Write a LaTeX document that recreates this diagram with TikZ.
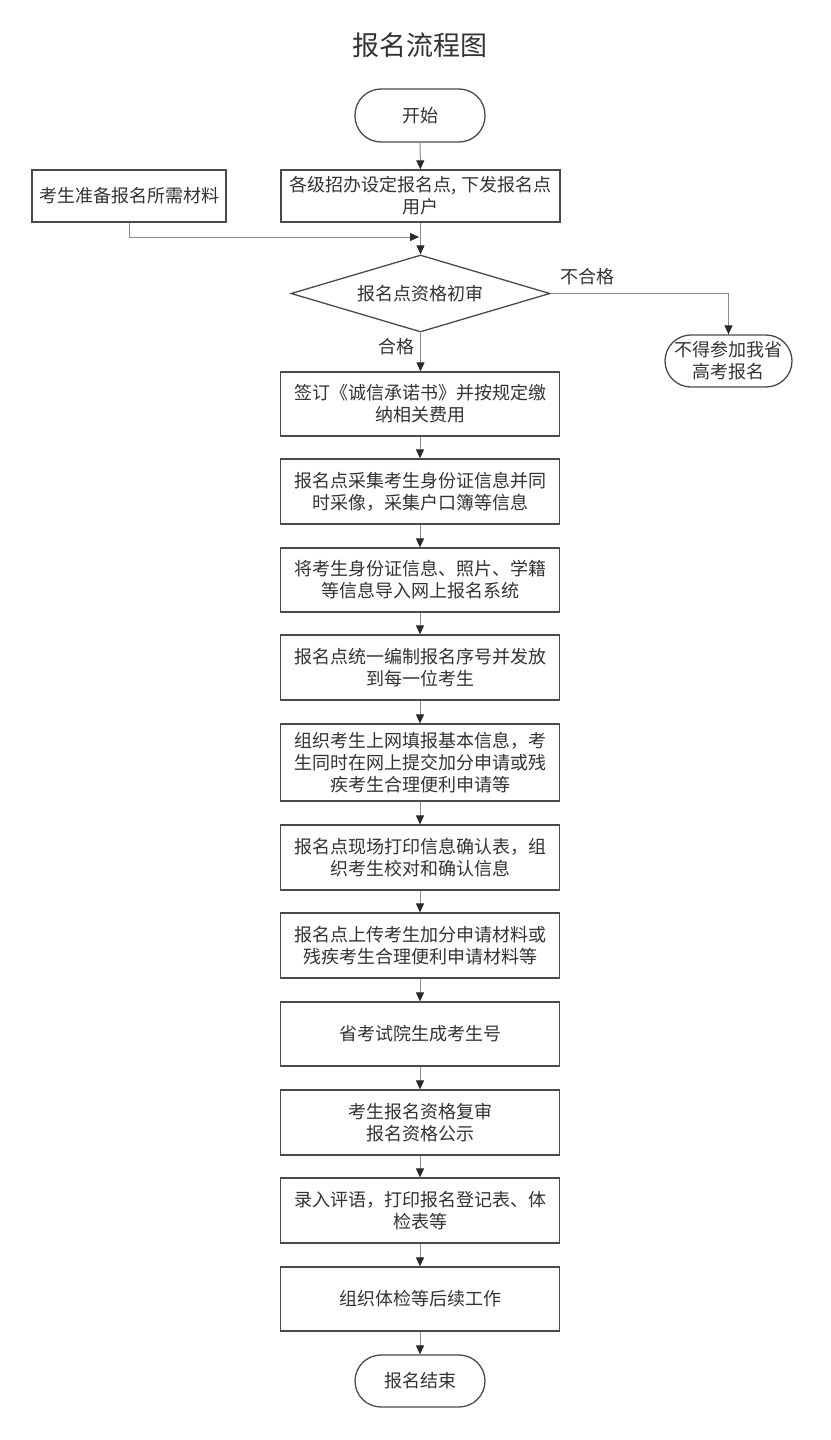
\documentclass[tikz,border=0pt]{standalone}
\usepackage{fontspec}
\setmainfont{Noto Sans CJK SC}
\usetikzlibrary{shapes.geometric,arrows.meta}
\definecolor{txtc}{HTML}{333333}
\definecolor{boxc}{HTML}{4A4A4A}
\definecolor{linec}{HTML}{8C8C8C}
\definecolor{tipc}{HTML}{2A2A2A}
\tikzset{
  stepbox/.style={draw=boxc, line width=1.3pt, rectangle, minimum width=279pt, align=center, inner sep=2pt, text=txtc, font=\fontsize{18}{22}\selectfont},
  termbox/.style={draw=boxc, line width=1.3pt, rectangle, rounded corners=26pt, align=center, inner sep=2pt, text=txtc, font=\fontsize{18}{22}\selectfont},
  decbox/.style={draw=boxc, line width=1.3pt, diamond, aspect=3.36, inner sep=0pt, minimum width=259pt, minimum height=77pt, text=txtc, font=\fontsize{18}{22}\selectfont},
  conn/.style={draw=linec, line width=1pt, -{Triangle[length=9pt,width=8pt,color=tipc]}},
  lbl/.style={text=txtc, font=\fontsize{18}{22}\selectfont, inner sep=1pt}
}
\begin{document}
\begin{tikzpicture}[x=1pt,y=-1pt]
\useasboundingbox[fill=white] (0,0) rectangle (830,1440);
\node[text=txtc, font=\fontsize{27}{31}\selectfont] (title) at (420,45) {报名流程图};
\node[termbox, minimum width=130pt, minimum height=53pt] (start) at (420,115.5) {开始};
\node[stepbox, minimum height=52pt] (b0) at (420.5,196) {各级招办设定报名点, 下发报名点\\用户};
\node[stepbox, minimum width=194pt, minimum height=52pt] (prep) at (129,196) {考生准备报名所需材料};
\node[decbox] (dec) at (420.5,293.5) {报名点资格初审};
\node[termbox, minimum width=127pt, minimum height=52pt] (rej) at (728.5,361) {不得参加我省\\高考报名};
\node[stepbox, minimum height=64pt] (b1) at (420,404) {签订《诚信承诺书》并按规定缴\\纳相关费用};
\node[stepbox, minimum height=65pt] (b2) at (420,491.5) {报名点采集考生身份证信息并同\\时采像，采集户口簿等信息};
\node[stepbox, minimum height=64pt] (b3) at (420,580) {将考生身份证信息、照片、学籍\\等信息导入网上报名系统};
\node[stepbox, minimum height=65pt] (b4) at (420,667.5) {报名点统一编制报名序号并发放\\到每一位考生};
\node[stepbox, minimum height=77pt] (b5) at (420,762.5) {组织考生上网填报基本信息，考\\生同时在网上提交加分申请或残\\疾考生合理便利申请等};
\node[stepbox, minimum height=65pt] (b6) at (420,857.5) {报名点现场打印信息确认表，组\\织考生校对和确认信息};
\node[stepbox, minimum height=65pt] (b7) at (420,945.5) {报名点上传考生加分申请材料或\\残疾考生合理便利申请材料等};
\node[stepbox, minimum height=64pt] (b8) at (420,1034) {省考试院生成考生号};
\node[stepbox, minimum height=65pt] (b9) at (420,1122.5) {考生报名资格复审\\报名资格公示};
\node[stepbox, minimum height=65pt] (b10) at (420,1210.5) {录入评语，打印报名登记表、体\\检表等};
\node[stepbox, minimum height=64pt] (b11) at (420,1299) {组织体检等后续工作};
\node[termbox, minimum width=130pt, minimum height=52pt] (end) at (420,1381) {报名结束};
\coordinate (join) at (419,237);
\coordinate (corner) at (728.5,293.5);
\draw[conn] (start) -- (b0);
\draw[conn] (b0.south -| dec.north) -- (dec.north);
\draw[conn] (prep.south) |- (join);
\draw[draw=linec, line width=1pt] (dec.east) -- (corner);
\draw[conn] (corner) -- (rej.north);
\node[lbl] (nq) at (587,277) {不合格};
\draw[conn] (dec.south) -- (dec.south |- b1.north);
\node[lbl] (q) at (396,347) {合格};
\draw[conn] (b1) -- (b2);
\draw[conn] (b2) -- (b3);
\draw[conn] (b3) -- (b4);
\draw[conn] (b4) -- (b5);
\draw[conn] (b5) -- (b6);
\draw[conn] (b6) -- (b7);
\draw[conn] (b7) -- (b8);
\draw[conn] (b8) -- (b9);
\draw[conn] (b9) -- (b10);
\draw[conn] (b10) -- (b11);
\draw[conn] (b11) -- (end);
\end{tikzpicture}
\end{document}
